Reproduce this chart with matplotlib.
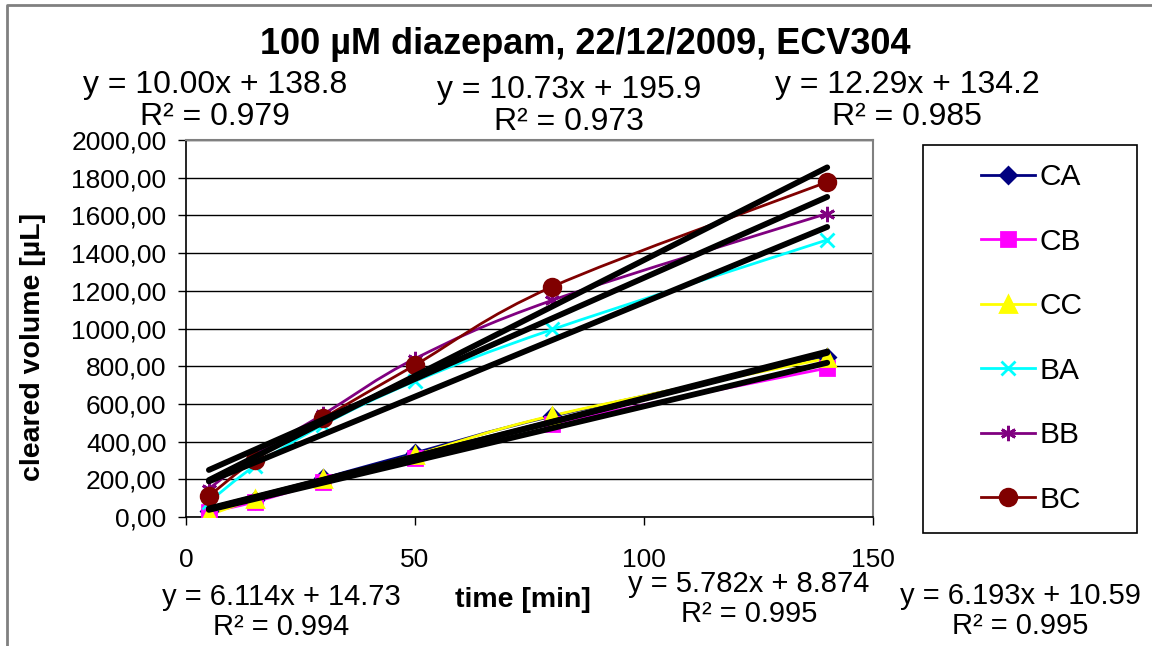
import matplotlib
matplotlib.use("Agg")
import matplotlib.pyplot as plt
import numpy as np
from matplotlib.path import Path
from matplotlib.patches import PathPatch, Rectangle
from matplotlib.lines import Line2D

plt.rcParams['font.family'] = ['Liberation Sans', 'DejaVu Sans']

# data
time_min = [5, 15, 30, 50, 80, 140]
names = ["CA", "CB", "CC", "BA", "BB", "BC"]
ca = [30, 92, 205, 340, 535, 848]
cb = [25, 80, 185, 315, 495, 790]
cc = [10, 95, 200, 330, 538, 842]
ba = [80, 270, 490, 720, 995, 1470]
bb = [150, 330, 545, 840, 1150, 1610]
bc = [111, 302, 525, 806, 1222, 1777]
series = [ca, cb, cc, ba, bb, bc]

# linear trendlines as given on the chart
slopes = [6.114, 5.782, 6.193, 10.00, 10.73, 12.29]
intercepts = [14.73, 8.874, 10.59, 138.8, 195.9, 134.2]
r2 = [0.994, 0.995, 0.995, 0.979, 0.973, 0.985]

colors = ["#000080", "#FF00FF", "#FFFF00", "#00FFFF", "#800080", "#800000"]
markers = ["D", "s", "^", "x", (6, 2, 0), "o"]
msizes = [8, 10, 11, 10, 11, 12]

W, H = 1152, 646


def smooth_path(xs, ys):
    # Excel-like smoothed line (Catmull-Rom as cubic Bezier)
    pts = np.column_stack([xs, ys]).astype(float)
    ext = np.vstack([pts[0], pts, pts[-1]])
    verts = [pts[0]]
    codes = [Path.MOVETO]
    for i in range(len(pts) - 1):
        p0, p1, p2, p3 = ext[i], ext[i + 1], ext[i + 2], ext[i + 3]
        verts += [p1 + (p2 - p0) / 6, p2 - (p3 - p1) / 6, p2]
        codes += [Path.CURVE4] * 3
    return Path(verts, codes)


def fmt4(v):
    dec = max(0, 3 - int(np.floor(np.log10(abs(v)))))
    return f"{v:.{dec}f}"


fig = plt.figure(figsize=(W / 100, H / 100), dpi=100)
ax = fig.add_axes([186 / W, 1 - 517 / H, 687 / W, 377 / H])

handles = []
for i, ys in enumerate(series):
    ax.add_patch(PathPatch(smooth_path(time_min, ys), fill=False, edgecolor=colors[i],
                           lw=2, zorder=2 + i * 0.1))
    ax.plot(time_min, ys, ls="none", marker=markers[i], ms=msizes[i], color=colors[i],
            mec=colors[i], mew=2, zorder=3 + i * 0.1)
    handles.append(Line2D([], [], color=colors[i], lw=2, marker=markers[i], ms=msizes[i],
                          mec=colors[i], mew=2))

xt = np.array([time_min[0], time_min[-1]])
for m, b in zip(slopes, intercepts):
    ax.plot(xt, m * xt + b, color="black", lw=4.2, solid_capstyle="round", zorder=6)

ax.set_xlim(0, 150)
ax.set_ylim(0, 2000)
ax.set_xticks([0, 50, 100, 150])
ax.set_yticks(np.arange(0, 2001, 200))
ax.set_yticklabels([f"{v:.2f}".replace(".", ",") for v in np.arange(0, 2001, 200)])
ax.yaxis.grid(True, color="black", lw=1)
ax.set_axisbelow(True)
ax.tick_params(axis="y", labelsize=19, length=6, width=1, pad=8)
ax.tick_params(axis="x", labelsize=19, length=6, width=1, pad=16)
for s in ["top", "right"]:
    ax.spines[s].set_color("#808080")
    ax.spines[s].set_linewidth(1.5)
for s in ["left", "bottom"]:
    ax.spines[s].set_color("black")
    ax.spines[s].set_linewidth(1.2)

ax.set_xlabel("time [min]", fontsize=20.5, fontweight="bold", va="center")
ax.xaxis.set_label_coords((523 - 186) / 687, (517 - 600) / 377)
ax.set_ylabel("cleared volume [µL]", fontsize=20.5, fontweight="bold", va="center")
ax.yaxis.set_label_coords((33 - 186) / 687, (517 - 347) / 377)

fig.text(585 / W, 1 - 44 / H, "100 µM diazepam, 22/12/2009, ECV304", fontsize=26,
         fontweight="bold", ha="center", va="center")

# trendline equation labels (CA, CB, CC, BA, BB, BC)
label_pos = [(281, 612), (749, 599), (1020, 611), (215, 101), (569, 106), (907, 101)]
label_size = [21, 21, 21, 23, 23, 23]
for i in range(6):
    txt = f"y = {fmt4(slopes[i])}x + {fmt4(intercepts[i])}\nR² = {r2[i]:.3f}"
    fig.text(label_pos[i][0] / W, 1 - label_pos[i][1] / H, txt, fontsize=label_size[i],
             ha="center", va="center", linespacing=1.1, multialignment="center")

leg = fig.legend(handles, names, loc="center", bbox_to_anchor=(1032 / W, 1 - 338.5 / H),
                 frameon=False, fontsize=21.5, handlelength=1.8, handletextpad=0.15,
                 labelspacing=1.22)
fig.patches.append(Rectangle((923 / W, 1 - 533 / H), 214 / W, 388 / H, transform=fig.transFigure,
                             fill=False, edgecolor="black", lw=1.2))
# outer chart border: only top and left edges are visible
fig.lines.append(Line2D([7 / W, 7 / W, 1.0], [0.0, 1 - 5 / H, 1 - 5 / H],
                        transform=fig.transFigure, color="#808080", lw=2))

fig.savefig("out.png", dpi=100)
